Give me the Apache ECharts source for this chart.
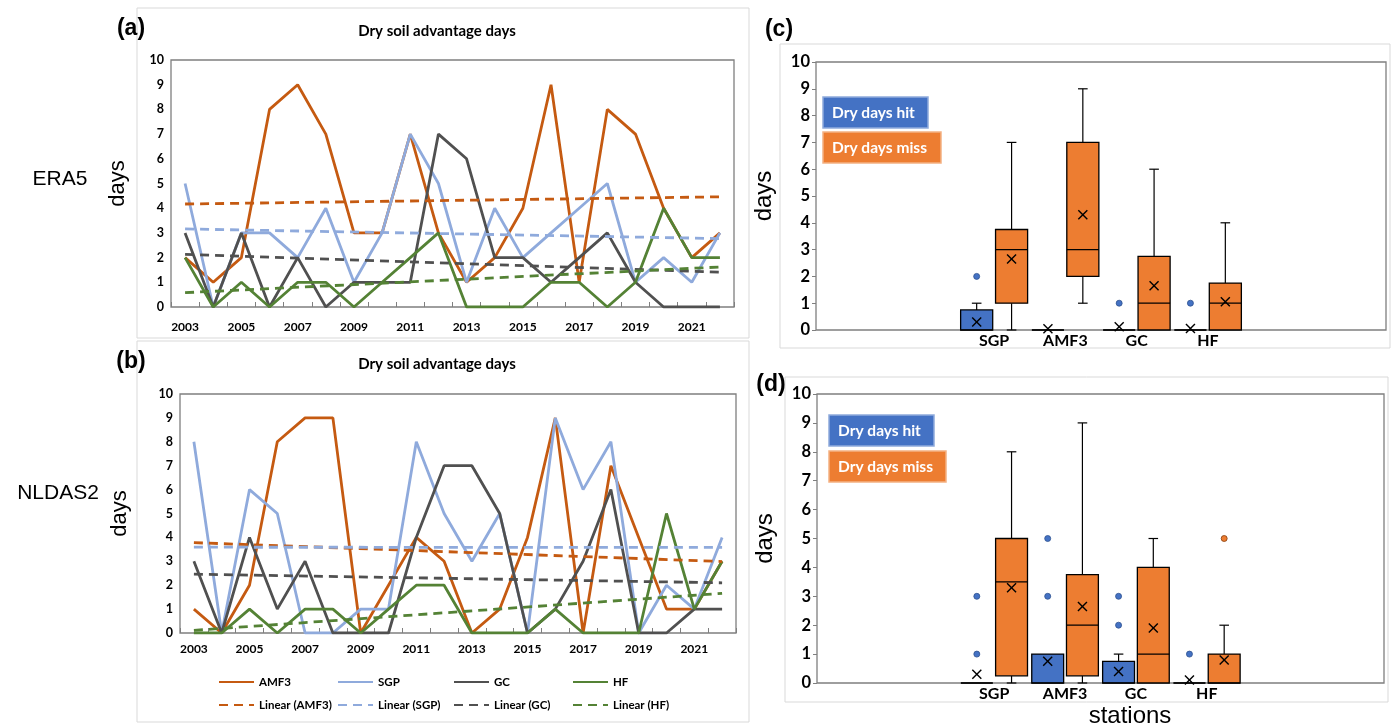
<!DOCTYPE html>
<html><head><meta charset="utf-8">
<script src="https://cdn.jsdelivr.net/npm/echarts@6/dist/echarts.min.js"></script>
<style>html,body{margin:0;padding:0;background:#fff}#c{width:1394px;height:726px}</style>
</head><body><div id="c"></div>
<script>
// ---------- data ----------
const years = ['2003','2004','2005','2006','2007','2008','2009','2010','2011','2012','2013','2014','2015','2016','2017','2018','2019','2020','2021','2022'];
const yTicks = [0,1,2,3,4,5,6,7,8,9,10];
// ERA5 (panel a)
const amf3Era5 = [2,1,2,8,9,7,3,3,7,3,1,2,4,9,1,8,7,4,2,3];
const sgpEra5  = [5,0,3,3,2,4,1,3,7,5,1,4,2,3,4,5,1,2,1,3];
const gcEra5   = [3,0,3,0,2,0,1,1,1,7,6,2,2,1,2,3,1,0,0,0];
const hfEra5   = [2,0,1,0,1,1,0,1,2,3,0,0,0,1,1,0,1,4,2,2];
// linear trend end points [2003, 2022]
const trendAmf3Era5 = [4.17, 4.46];
const trendSgpEra5  = [3.16, 2.77];
const trendGcEra5   = [2.13, 1.41];
const trendHfEra5   = [0.58, 1.62];
// NLDAS2 (panel b)
const amf3Nldas = [1,0,2,8,9,9,0,2,4,3,0,1,4,9,0,7,4,1,1,3];
const sgpNldas  = [8,0,6,5,0,0,1,1,8,5,3,5,0,9,6,8,0,2,1,4];
const gcNldas   = [3,0,4,1,3,0,0,0,4,7,7,5,0,1,3,6,0,0,1,1];
const hfNldas   = [0,0,1,0,1,1,0,1,2,2,0,0,0,1,0,0,0,5,1,3];
const trendAmf3Nldas = [3.78, 2.99];
const trendSgpNldas  = [3.59, 3.58];
const trendGcNldas   = [2.46, 2.10];
const trendHfNldas   = [0.11, 1.66];
// box plots
const stations = ['SGP','AMF3','GC','HF'];
const boxCats = ['e1','e2','SGP','AMF3','GC','HF','e3','e4'];
// [min, Q1, median, Q3, max]
const hitEra5  = [[0,0,0,0.75,1],[0,0,0,0,0],[0,0,0,0,0],[0,0,0,0,0]];
const hitMeanEra5 = [0.3, 0.05, 0.12, 0.06];
const hitOutEra5 = [[2],[],[1],[1]];
const missEra5 = [[0,1,3,3.75,7],[1,2,3,7,9],[0,0,1,2.75,6],[0,0,1,1.75,4]];
const missMeanEra5 = [2.65, 4.3, 1.65, 1.05];
const missOutEra5 = [[],[],[],[]];
const hitNldas  = [[0,0,0,0,0],[0,0,0,1,1],[0,0,0,0.75,1],[0,0,0,0,0]];
const hitMeanNldas = [0.3, 0.75, 0.4, 0.1];
const hitOutNldas = [[1,3],[3,5],[2,3],[1]];
const missNldas = [[0,0.25,3.5,5,8],[0,0.25,2,3.75,9],[0,0,1,4,5],[0,0,0,1,2]];
const missMeanNldas = [3.3, 2.65, 1.9, 0.8];
const missOutNldas = [[],[],[],[5]];

// ---------- styles ----------
const C_AMF3 = '#C55A11', C_SGP = '#8FAADC', C_GC = '#505050', C_HF = '#548235';
const C_HIT = '#4472C4', C_MISS = '#ED7D31';
const LATO = 'Lato, "Open Sans", sans-serif';
const ARIAL = '"Liberation Sans", Arial, sans-serif';

function lineS(name, data, color, ax) {
  return {type:'line', name, data, xAxisIndex:ax, yAxisIndex:ax, symbol:'none',
    lineStyle:{color, width:2.8}, itemStyle:{color}, z:3, animation:false};
}
function trendS(name, ends, color, ax) {
  const d = years.map((_, i) => i === 0 ? ends[0] : (i === years.length - 1 ? ends[1] : null));
  return {type:'line', name, data:d, connectNulls:true, xAxisIndex:ax, yAxisIndex:ax, symbol:'none',
    lineStyle:{color, width:2.8, type:[9,6]}, itemStyle:{color}, z:4, animation:false};
}
function boxRender(side, fill) {
  return function (params, api) {
    const c = api.value(0);
    const bw = api.size([1, 0])[0];
    const w = bw * 0.45;
    const cx = api.coord([c, 0])[0] + side * bw * 0.245;
    const Y = k => api.coord([c, api.value(k)])[1];
    const yMin = Y(1), yQ1 = Y(2), yMed = Y(3), yQ3 = Y(4), yMax = Y(5), yMean = Y(6);
    const cap = w * 0.15, xs = 4.5;
    const ln = (x1, y1, x2, y2, lw) => ({type:'line', shape:{x1, y1, x2, y2}, style:{stroke:'#000', lineWidth: lw || 1.2}});
    const ch = [];
    if (yMax < yQ3 - 0.5) { ch.push(ln(cx, yQ3, cx, yMax)); ch.push(ln(cx - cap, yMax, cx + cap, yMax)); }
    if (yMin > yQ1 + 0.5) { ch.push(ln(cx, yQ1, cx, yMin)); ch.push(ln(cx - cap, yMin, cx + cap, yMin)); }
    ch.push({type:'rect', shape:{x:cx - w / 2, y:yQ3, width:w, height:yQ1 - yQ3}, style:{fill, stroke:'#000', lineWidth:1.3}});
    ch.push(ln(cx - w / 2, yMed, cx + w / 2, yMed));
    ch.push(ln(cx - xs, yMean - xs, cx + xs, yMean + xs, 1.4));
    ch.push(ln(cx - xs, yMean + xs, cx + xs, yMean - xs, 1.4));
    return {type:'group', children: ch};
  };
}
function outRender(side, fill, stroke) {
  return function (params, api) {
    const c = api.value(0);
    const bw = api.size([1, 0])[0];
    const cx = api.coord([c, 0])[0] + side * bw * 0.245;
    const cy = api.coord([c, api.value(1)])[1];
    return {type:'circle', shape:{cx, cy, r:3}, style:{fill, stroke, lineWidth:0.8}};
  };
}
function boxSeries(name, stats, means, outs, side, fill, stroke, ax) {
  const data = stations.map((s, i) => [boxCats.indexOf(s)].concat(stats[i], [means[i]]));
  const od = [];
  stations.forEach((s, i) => outs[i].forEach(v => od.push([boxCats.indexOf(s), v])));
  return [
    {type:'custom', name, xAxisIndex:ax, yAxisIndex:ax, data, renderItem: boxRender(side, fill),
      encode:{x:0, y:[1,2,3,4,5]}, z:3, animation:false},
    {type:'custom', name: name + ' outliers', xAxisIndex:ax, yAxisIndex:ax, data: od, renderItem: outRender(side, fill, stroke),
      encode:{x:0, y:1}, z:4, animation:false}
  ];
}

const gridStyle = {show:true, borderColor:'#7f7f7f', borderWidth:1.3, backgroundColor:'transparent'};
function yLine(gi, nameGap) {
  return {type:'value', gridIndex:gi, min:yTicks[0], max:yTicks[yTicks.length-1], interval:1,
    axisLine:{show:false}, axisTick:{show:false}, splitLine:{show:false},
    axisLabel:{color:'#000', fontWeight:'bold', fontSize:12.5, fontFamily:LATO, margin:7},
    name:'days', nameLocation:'middle', nameGap, nameRotate:90,
    nameTextStyle:{fontFamily:ARIAL, fontSize:22, color:'#000'}};
}
function xLine(gi, margin) {
  return {type:'category', gridIndex:gi, data:years, boundaryGap:true,
    axisLine:{show:false}, axisTick:{show:true, inside:true, length:5, interval:0, lineStyle:{color:'#7f7f7f'}},
    axisLabel:{interval:1, color:'#000', fontWeight:'bold', fontSize:12, fontFamily:LATO, margin}};
}
function yBox(gi, nameGap) {
  return {type:'value', gridIndex:gi, min:yTicks[0], max:yTicks[yTicks.length-1], interval:1,
    axisLine:{show:false}, axisTick:{show:true, length:4, lineStyle:{color:'#7f7f7f'}}, splitLine:{show:false},
    axisLabel:{color:'#000', fontWeight:'bold', fontSize:16.5, fontFamily:LATO, margin:6},
    name:'days', nameLocation:'middle', nameGap, nameRotate:90,
    nameTextStyle:{fontFamily:ARIAL, fontSize:24, color:'#000'}};
}
function xBox(gi, margin) {
  return {type:'category', gridIndex:gi, data:boxCats, boundaryGap:true,
    axisLine:{show:false}, axisTick:{show:false},
    axisLabel:{interval:0, color:'#000', fontWeight:'bold', fontSize:16, fontFamily:LATO, margin,
      formatter: v => stations.indexOf(v) >= 0 ? v : ''}};
}

const legendNames = [['AMF3','SGP','GC','HF'],['Linear (AMF3)','Linear (SGP)','Linear (GC)','Linear (HF)']];
const legendLeft = [213, 332, 448, 567];
const legends = [];
legendNames.forEach((row, r) => row.forEach((n, i) => legends.push({
  data:[n], left:legendLeft[i], top: r === 0 ? 671 : 694, itemWidth:35, itemHeight:14, itemGap:5,
  itemStyle:{opacity:0}, selectedMode:false,
  textStyle:{color:'#000', fontWeight:'bold', fontSize:11.5, fontFamily:LATO}
})));

function txt(x, y, text, font, extra) {
  return Object.assign({type:'text', x, y, silent:true, z:10,
    style:{text, font, fill:'#000', align:'center', verticalAlign:'middle', textAlign:'center', textVerticalAlign:'middle'}}, extra || {});
}
function frame(x, y, w, h) {
  return {type:'rect', shape:{x, y, width:w, height:h}, style:{fill:'none', stroke:'#d9d9d9', lineWidth:1}, silent:true, z:-1};
}
function legBox(x, y, w, h, fill, stroke, text) {
  return {type:'group', x, y, z:10, children:[
    {type:'rect', shape:{x:0, y:0, width:w, height:h}, style:{fill, stroke, lineWidth:1.5}},
    {type:'text', x:9, y:h / 2, style:{text, font:'bold 15.5px ' + LATO, fill:'#fff', verticalAlign:'middle', textVerticalAlign:'middle'}}
  ]};
}

const option = {
  backgroundColor:'#fff',
  animation:false,
  grid:[
    Object.assign({left:171, top:60, width:563, height:247}, gridStyle),
    Object.assign({left:180, top:394, width:556, height:239}, gridStyle),
    Object.assign({left:816, top:62, width:570, height:268}, gridStyle),
    Object.assign({left:817, top:394, width:567, height:289}, gridStyle)
  ],
  xAxis:[xLine(0, 14), xLine(1, 10), xBox(2, 3), xBox(3, 3)],
  yAxis:[yLine(0, 42), yLine(1, 49), yBox(2, 40), yBox(3, 40)],
  legend: legends,
  series:[
    lineS('AMF3', amf3Era5, C_AMF3, 0), lineS('SGP', sgpEra5, C_SGP, 0),
    lineS('GC', gcEra5, C_GC, 0), lineS('HF', hfEra5, C_HF, 0),
    trendS('Linear (AMF3)', trendAmf3Era5, C_AMF3, 0), trendS('Linear (SGP)', trendSgpEra5, C_SGP, 0),
    trendS('Linear (GC)', trendGcEra5, C_GC, 0), trendS('Linear (HF)', trendHfEra5, C_HF, 0),
    lineS('AMF3', amf3Nldas, C_AMF3, 1), lineS('SGP', sgpNldas, C_SGP, 1),
    lineS('GC', gcNldas, C_GC, 1), lineS('HF', hfNldas, C_HF, 1),
    trendS('Linear (AMF3)', trendAmf3Nldas, C_AMF3, 1), trendS('Linear (SGP)', trendSgpNldas, C_SGP, 1),
    trendS('Linear (GC)', trendGcNldas, C_GC, 1), trendS('Linear (HF)', trendHfNldas, C_HF, 1)
  ].concat(
    boxSeries('Dry days hit', hitEra5, hitMeanEra5, hitOutEra5, -1, C_HIT, '#2F528F', 2),
    boxSeries('Dry days miss', missEra5, missMeanEra5, missOutEra5, 1, C_MISS, '#843C0C', 2),
    boxSeries('Dry days hit', hitNldas, hitMeanNldas, hitOutNldas, -1, C_HIT, '#2F528F', 3),
    boxSeries('Dry days miss', missNldas, missMeanNldas, missOutNldas, 1, C_MISS, '#843C0C', 3)
  ),
  graphic:[
    frame(137, 8, 612, 330), frame(137, 341, 612, 381), frame(780, 44, 610, 304), frame(785, 377, 603, 325),
    txt(131, 29, '(a)', 'bold 23px ' + ARIAL), txt(131, 362, '(b)', 'bold 23px ' + ARIAL),
    txt(779, 30, '(c)', 'bold 23px ' + ARIAL), txt(771, 385, '(d)', 'bold 23px ' + ARIAL),
    txt(437, 31, 'Dry soil advantage days', 'bold 15px ' + LATO),
    txt(437, 364, 'Dry soil advantage days', 'bold 15px ' + LATO),
    txt(60, 179, 'ERA5', '21px ' + ARIAL), txt(58, 493, 'NLDAS2', '21px ' + ARIAL),
    txt(1130, 716, 'stations', '24px ' + ARIAL),
    legBox(823, 97, 105, 31, C_HIT, '#8FAADC', 'Dry days hit'),
    legBox(823, 132, 118, 31, C_MISS, '#F4B183', 'Dry days miss'),
    legBox(829, 415, 105, 31, C_HIT, '#8FAADC', 'Dry days hit'),
    legBox(829, 451, 117, 31, C_MISS, '#F4B183', 'Dry days miss')
  ]
};
const chart = echarts.init(document.getElementById('c'), null, {renderer:'canvas'});
chart.setOption(option);
</script>
</body></html>
